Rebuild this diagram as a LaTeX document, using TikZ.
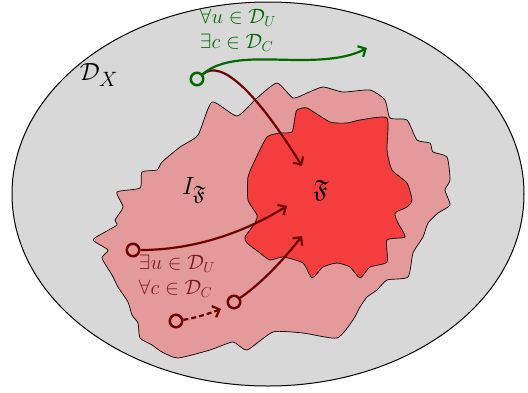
\documentclass[tikz,border=0pt]{standalone}
\usepackage{amssymb}
\usetikzlibrary{arrows.meta}
\definecolor{bggray}{RGB}{216,216,216}
\definecolor{pinkfill}{RGB}{228,154,154}
\definecolor{redfill}{RGB}{244,62,62}
\definecolor{darkr}{RGB}{110,0,0}
\definecolor{textr}{RGB}{125,25,25}
\definecolor{darkg}{RGB}{0,105,0}
\tikzset{
  lbl/.style={inner sep=0pt, font=\fontsize{20.74}{26}\selectfont},
  biglbl/.style={inner sep=0pt, font=\fontsize{24.88}{30}\selectfont},
  startpt/.style={circle, draw, line width=2.5pt, fill=none, minimum size=12.5pt, inner sep=0pt},
  arr/.style={line width=2.2pt, -{Straight Barb[length=6pt,width=12pt,line width=2.2pt]}},
  blob/.style={draw=black, line width=0.7pt}
}
\begin{document}
\begin{tikzpicture}[x=1pt,y=-1pt]
\useasboundingbox (0,0) rectangle (528,392);
% outer domain
\draw[fill=bggray, line width=1pt] (268,194) ellipse [x radius=256, y radius=192];
% outer blob I_F
\draw[blob, fill=pinkfill] plot[smooth cycle, tension=0.35] coordinates {
(212,102) (237,116) (257,98) (277,83) (293,98) (307,93) (323,87) (343,92)
(370,90) (385,100) (390,118) (407,120) (417,140) (430,143) (433,152) (447,157)
(450,180) (445,190) (450,205) (438,213) (428,223) (423,237) (413,253) (408,277)
(387,280) (377,290) (367,297) (360,307) (353,320) (337,338) (303,333) (273,332)
(247,350) (233,342) (210,350) (178,358) (162,352) (152,345) (140,338) (138,323)
(132,315) (128,302) (118,287) (112,275) (102,258) (108,250) (93,240) (105,232)
(117,225) (115,220) (123,207) (117,192) (140,188) (142,172) (157,170) (162,162)
(180,147) (198,135)};
% inner blob F
\draw[blob, fill=redfill] plot[smooth cycle, tension=0.35] coordinates {
(297,110) (307,108) (330,122) (347,123) (360,120) (387,118) (387,150) (392,170)
(407,183) (412,200) (407,207) (395,213) (398,223) (405,237) (387,240) (387,262)
(370,267) (360,278) (350,267) (337,263) (323,267) (312,278) (303,263) (283,257)
(270,260) (260,253) (247,243) (245,237) (255,223) (257,215) (248,200) (248,177)
(255,160) (267,137) (280,133) (292,132) (295,117)};
% labels
\node[biglbl] (dx) at (99,75) {$\mathcal{D}_X$};
\node[biglbl] (ifr) at (194,190) {$I_{\mathfrak{F}}$};
\node[biglbl] (fr) at (321,190) {$\mathfrak{F}$};
\node[lbl, text=darkg, align=left] (gtext) at (238,30) {$\forall u\in\mathcal{D}_U$\\[-1pt]$\exists c\in\mathcal{D}_C$};
\node[lbl, text=textr, align=left] (rtext) at (177,276) {$\exists u\in\mathcal{D}_U$\\[-1pt]$\forall c\in\mathcal{D}_C$};
% start points
\node[startpt, draw=darkg] (g) at (197,79) {};
\node[startpt, draw=darkr] (a) at (133,250) {};
\node[startpt, draw=darkr] (b) at (234,302) {};
\node[startpt, draw=darkr] (c) at (176,321) {};
% end points
\coordinate (ge) at (367,48);
\coordinate (e1) at (302,166);
\coordinate (e2) at (287,206);
\coordinate (e3) at (302,236);
\coordinate (e4) at (221,309);
% connectors
\draw[arr, darkr] (g) .. controls (222,58) and (258,95) .. (e1);
\draw[arr, darkg] (g) .. controls (225,55) and (265,60) .. (300,60) .. controls (330,60) and (350,57) .. (ge);
\draw[arr, darkr] (a) .. controls (190,250) and (240,235) .. (e2);
\draw[arr, darkr] (b) .. controls (262,283) and (285,258) .. (e3);
\draw[arr, darkr, dashed, dash pattern=on 5pt off 3pt] (c) .. controls (195,318) and (208,314) .. (e4);
\end{tikzpicture}
\end{document}
